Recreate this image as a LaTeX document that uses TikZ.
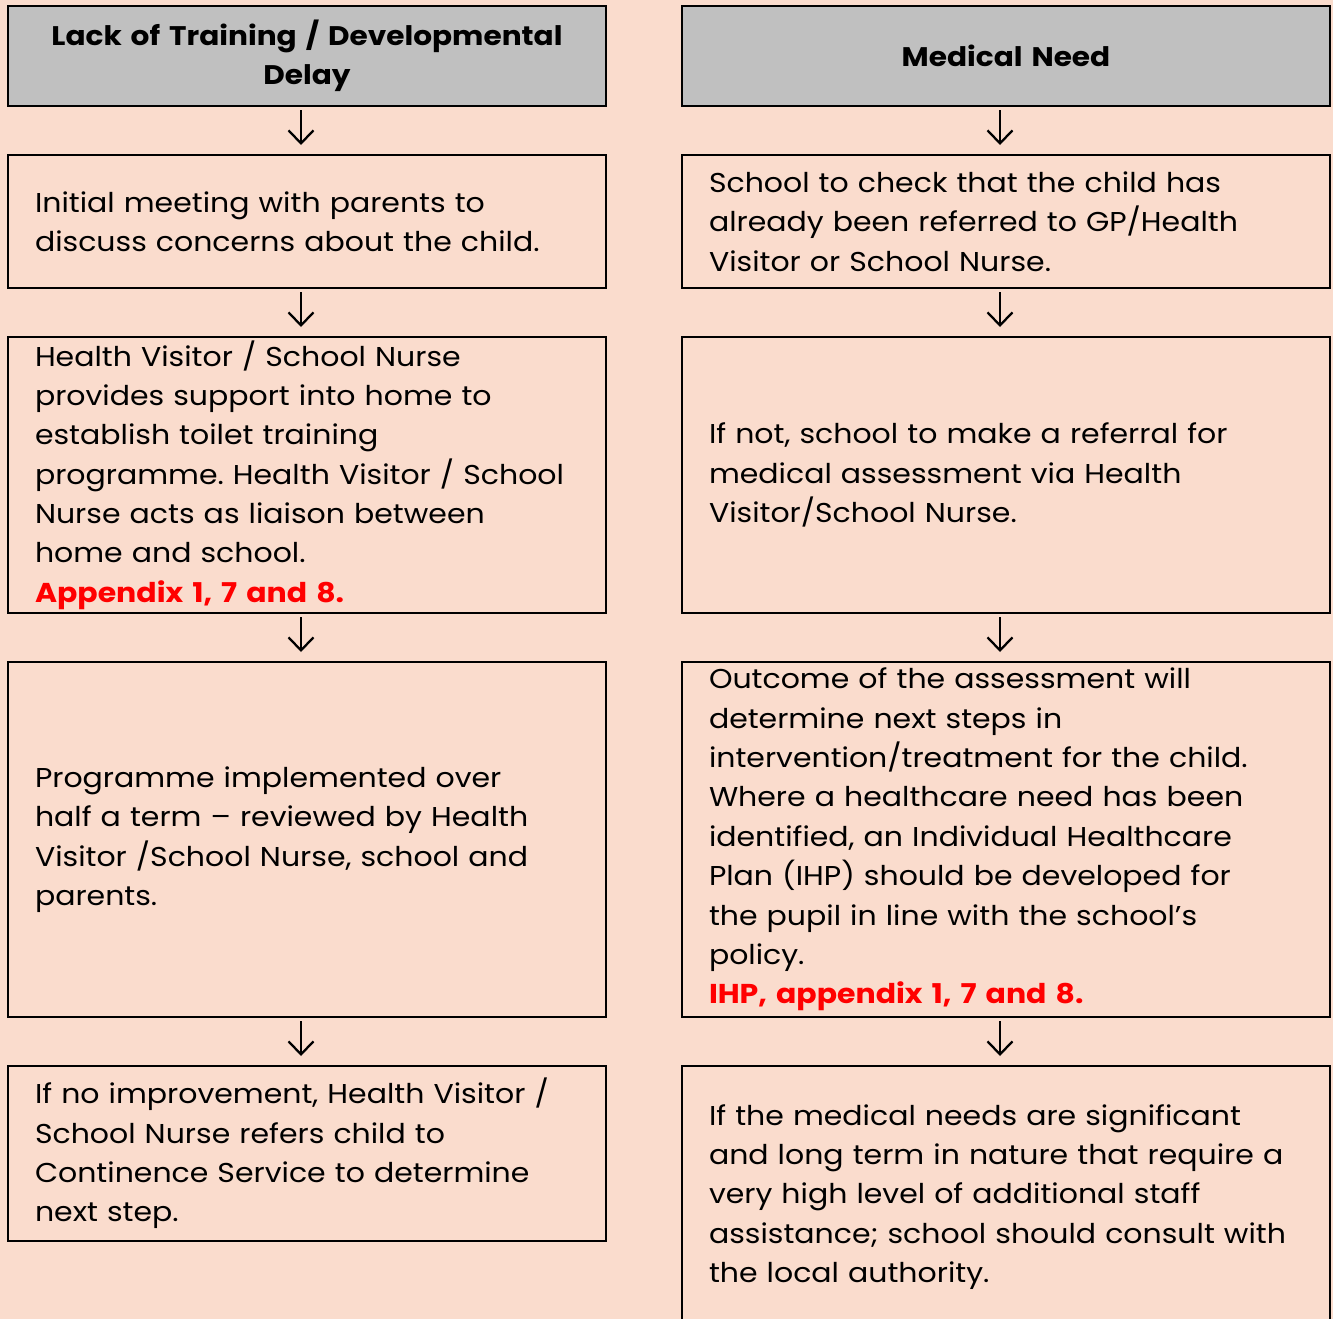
\documentclass[tikz,border=0pt]{standalone}
\usepackage{fontspec}
\setmainfont{Poppins}[FakeStretch=1.1]
\frenchspacing
\usetikzlibrary{arrows.meta,positioning}
\definecolor{peach}{RGB}{250,220,205}
\definecolor{hdrgray}{RGB}{192,192,192}
\definecolor{apxred}{RGB}{255,0,0}

\tikzset{
  stepbox/.style={draw, line width=1.1pt, fill=peach, inner xsep=0.54cm, inner ysep=0pt,
    outer sep=0pt, align=left, font=\fontsize{15.5}{22.4}\selectfont},
  hdrbox/.style={stepbox, fill=hdrgray, align=center, minimum height=2cm,
    font=\bfseries\fontsize{15.3}{22.4}\selectfont},
  leftbox/.style={text width=10.88cm, minimum width=11.96cm},
  rightbox/.style={text width=11.88cm, minimum width=12.96cm},
  flow/.style={-{Straight Barb[length=0.26cm,width=0.5cm,line width=1.3pt]}, line width=1.2pt},
  node distance=0.98cm
}

\begin{document}
\begin{tikzpicture}
  %page and background
    \useasboundingbox (0,0) rectangle (26.66,-26.38);
    \fill[peach] (0,0) rectangle (26.66,-26.38);
  %left column
    \node[hdrbox, leftbox] (hdrL) at (6.14,-1.12) {Lack of Training / Developmental\\Delay};
    \node[stepbox, leftbox, minimum height=2.66cm, below=of hdrL] (meetL)
      {Initial meeting with parents to\\discuss concerns about the child.};
    \node[stepbox, leftbox, minimum height=5.52cm, below=of meetL] (supportL)
      {Health Visitor / School Nurse\\provides support into home to\\establish toilet training\\programme. Health Visitor / School\\Nurse acts as liaison between\\home and school.\\{\color{apxred}\bfseries Appendix 1, 7 and 8.}};
    \node[stepbox, leftbox, minimum height=7.1cm, below=of supportL] (reviewL)
      {Programme implemented over\\half a term – reviewed by Health\\Visitor /School Nurse, school and\\parents.};
    \node[stepbox, leftbox, minimum height=3.5cm, below=of reviewL] (referL)
      {If no improvement, Health Visitor /\\School Nurse refers child to\\Continence Service to determine\\next step.};
  %right column
    \node[hdrbox, rightbox] (hdrR) at (20.12,-1.12) {Medical Need};
    \node[stepbox, rightbox, minimum height=2.66cm, below=of hdrR] (checkR)
      {School to check that the child has\\already been referred to GP/Health\\Visitor or School Nurse.};
    \node[stepbox, rightbox, minimum height=5.52cm, below=of checkR] (referR)
      {If not, school to make a referral for\\medical assessment via Health\\Visitor/School Nurse.};
    \node[stepbox, rightbox, minimum height=7.1cm, below=of referR] (outcomeR)
      {Outcome of the assessment will\\determine next steps in\\intervention/treatment for the child.\\Where a healthcare need has been\\identified, an Individual Healthcare\\Plan (IHP) should be developed for\\the pupil in line with the school’s\\policy.\\{\color{apxred}\bfseries IHP, appendix 1, 7 and 8.}};
    \node[stepbox, rightbox, minimum height=5.24cm, below=of outcomeR] (consultR)
      {If the medical needs are significant\\and long term in nature that require a\\very high level of additional staff\\assistance; school should consult with\\the local authority.};
  %draw arrows
    \foreach \a/\b in {hdrL/meetL, meetL/supportL, supportL/reviewL, reviewL/referL,
                       hdrR/checkR, checkR/referR, referR/outcomeR, outcomeR/consultR}
       \draw[flow] ([xshift=-0.12cm,yshift=-0.08cm]\a.south) -- ([xshift=-0.12cm,yshift=0.2cm]\b.north);
\end{tikzpicture}
\end{document}
